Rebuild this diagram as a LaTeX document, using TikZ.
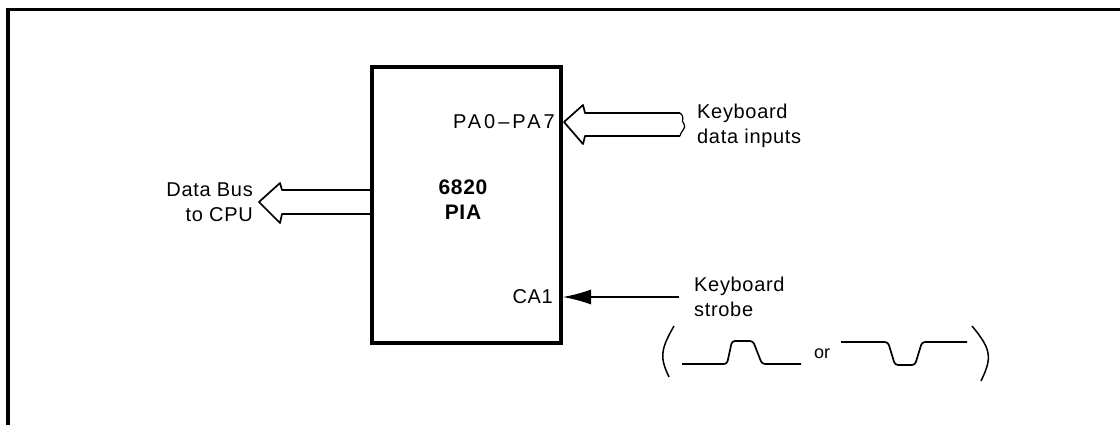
\documentclass[tikz,border=0pt]{standalone}
\usepackage{fontspec}
\setmainfont{Liberation Sans}
\newfontfamily\platefont[LetterSpace=3.4]{Liberation Sans}
\newfontfamily\platebold[LetterSpace=3.4]{Liberation Sans Bold}
\newfontfamily\pinfont[LetterSpace=15]{Liberation Sans}
\usetikzlibrary{arrows.meta,positioning,calc}

\begin{document}
\begin{tikzpicture}[
    x=1pt, y=-1pt,
    lbl/.style={align=left, font=\platefont\fontsize{20}{24.5}\selectfont, inner sep=0pt},
    pin/.style={font=\platefont\fontsize{20}{24.5}\selectfont, inner sep=0pt},
    chip/.style={draw, line width=4pt, minimum width=189pt, minimum height=276pt},
    bus/.style={line width=1.7pt, line join=round},
    wave/.style={line width=1.7pt, rounded corners=3pt}
]
\useasboundingbox (0,0) rectangle (1120,425);
\draw[line width=3.5pt] (8,425) -- (8,9.5) -- (1120,9.5);
% chip
\node[chip] (pia) at (466.5,205) {};
\node[font=\platebold\fontsize{21}{25}\selectfont, align=center, inner sep=0pt] (name) at (463,200) {6820\\PIA};
\node[pin, font=\pinfont\fontsize{20}{24.5}\selectfont, anchor=east] (pa) at (555,122) {PA0–PA7};
\node[pin, anchor=east] (ca) at (553,297) {CA1};
% labels
\node[lbl, anchor=west] (kbd) at (697,126) {Keyboard\\data inputs};
\node[lbl, anchor=west] (strobe) at (694,297) {Keyboard\\strobe};
\node[lbl, anchor=east, align=right] (bus) at (253,202) {Data Bus\\to CPU};
\node[font=\fontsize{18}{20}\selectfont, inner sep=0pt] (or) at (822,354) {or};
% bus arrows
\coordinate (kbdtop) at (680,113);
\coordinate (kbdbot) at (680,136);
\coordinate (bustop) at (pia.west |- 0,190);
\coordinate (busbot) at (pia.west |- 0,214);
\draw[bus] (kbdtop) -- (585,113) -- (583,105) -- (564,122) -- (583,144) -- (585,136) -- (kbdbot);
\draw[line width=1.2pt] (kbdtop) .. controls (686,118) and (680,120) .. (684,124) .. controls (687,128) and (680,132) .. (kbdbot);
\draw[bus] (bustop) -- (282,190) -- (280,183) -- (259,202) -- (280,223) -- (282,214) -- (busbot);
% strobe arrow
\coordinate (strobeend) at (679,297);
\draw[line width=1.2pt, -{Latex[length=28pt,width=15pt]}] (strobeend) -- (pia.east |- strobeend);
% parentheses
\draw[line width=1.5pt] (674,326) .. controls (660,350) and (660,358) .. (669,377);
\draw[line width=1.5pt] (972,326) .. controls (992,350) and (992,358) .. (981,381);
% waveforms
\draw[wave] (682,364) -- (727,364) -- (732,341) -- (753,341) -- (762,364) -- (801,364);
\draw[wave] (841,342) -- (888,342) -- (895,365) -- (915,365) -- (922,342) -- (967,342);
\end{tikzpicture}
\end{document}
